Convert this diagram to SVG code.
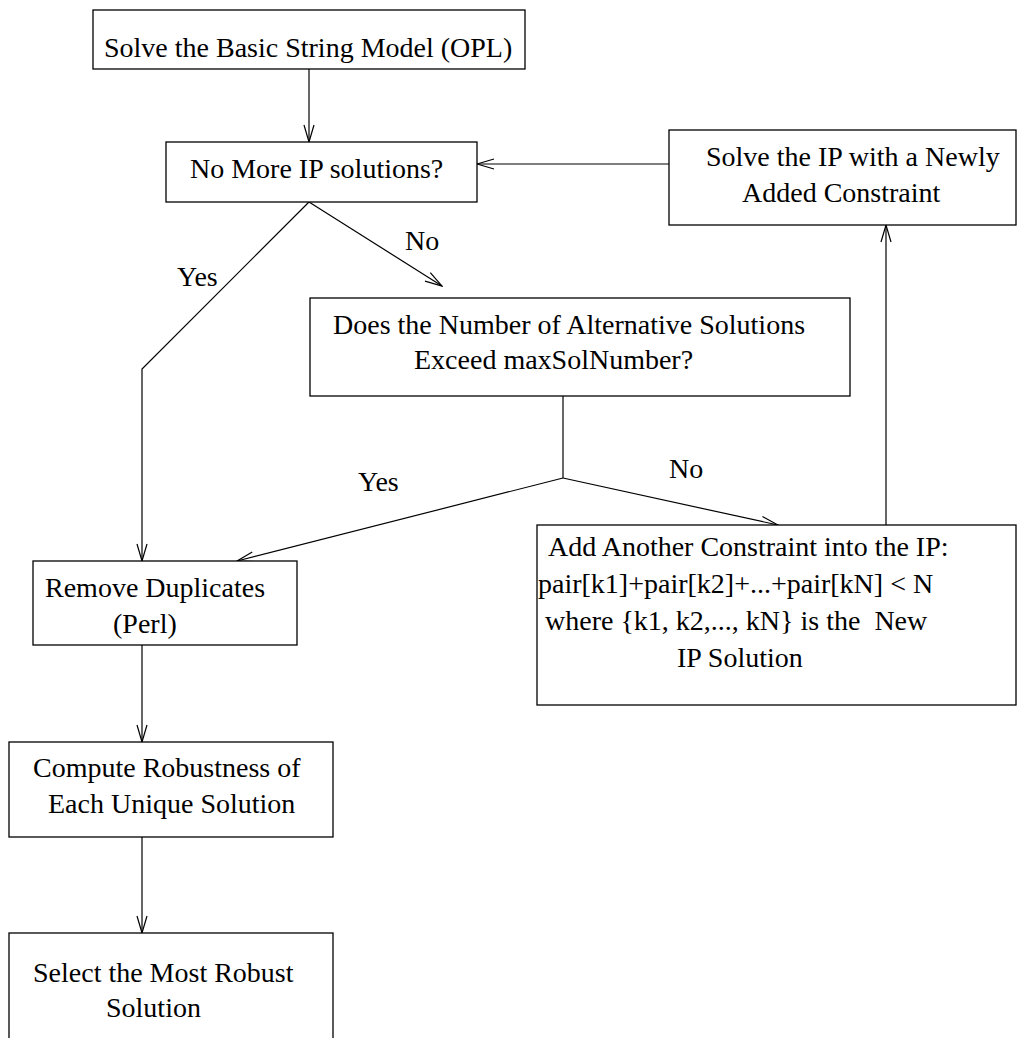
<svg xmlns="http://www.w3.org/2000/svg" width="1018" height="1038" viewBox="0 0 1018 1038">
<style>
.box{fill:#fff;stroke:#000;stroke-width:1.3}
.t{font-family:"Liberation Serif","Times New Roman",serif;font-size:28px;fill:#000}
.c{fill:none;stroke:#000;stroke-width:1.2}
</style>
<defs>
<marker id="ah" viewBox="-18 -6 19 12" refX="0" refY="0" markerWidth="19" markerHeight="12" markerUnits="userSpaceOnUse" orient="auto">
<path d="M-17,-5 L0,0 L-17,5" fill="none" stroke="#000" stroke-width="1.2"/>
</marker>
</defs>
<rect width="1018" height="1038" fill="#fff"/>
<g id="connectors">
<line class="c" x1="309" y1="69" x2="309" y2="142" marker-end="url(#ah)"/>
<line class="c" x1="669" y1="164" x2="477" y2="164" marker-end="url(#ah)"/>
<line class="c" x1="886" y1="525" x2="886" y2="225" marker-end="url(#ah)"/>
<line class="c" x1="309" y1="202" x2="442" y2="286" marker-end="url(#ah)"/>
<polyline class="c" points="309,202 142,369 142,561" marker-end="url(#ah)"/>
<line class="c" x1="563" y1="396" x2="563" y2="478"/>
<line class="c" x1="563" y1="478" x2="237" y2="561" marker-end="url(#ah)"/>
<line class="c" x1="563" y1="478" x2="778" y2="525" marker-end="url(#ah)"/>
<line class="c" x1="142" y1="645" x2="142" y2="742" marker-end="url(#ah)"/>
<line class="c" x1="142" y1="837" x2="142" y2="933" marker-end="url(#ah)"/>
<text class="t" x="405" y="250">No</text>
<text class="t" x="177" y="286">Yes</text>
<text class="t" x="358" y="491">Yes</text>
<text class="t" x="669" y="478">No</text>
</g>
<g id="n1">
<rect class="box" x="93" y="10" width="432" height="59"/>
<text class="t" x="104" y="57">Solve the Basic String Model (OPL)</text>
</g>
<g id="n2">
<rect class="box" x="166" y="142" width="311" height="60"/>
<text class="t" x="190" y="178">No More IP solutions?</text>
</g>
<g id="n3">
<rect class="box" x="669" y="130" width="347" height="95"/>
<text class="t" x="706" y="166">Solve the IP with a Newly</text>
<text class="t" x="742" y="202">Added Constraint</text>
</g>
<g id="n4">
<rect class="box" x="310" y="298" width="540" height="98"/>
<text class="t" x="333" y="334">Does the Number of Alternative Solutions</text>
<text class="t" x="414" y="369">Exceed maxSolNumber?</text>
</g>
<g id="n5">
<rect class="box" x="537" y="525" width="479" height="180"/>
<text class="t" x="548" y="556">Add Another Constraint into the IP:</text>
<text class="t" x="538" y="593">pair[k1]+pair[k2]+...+pair[kN] &lt; N</text>
<text class="t" x="545" y="630">where {k1, k2,..., kN} is the&#160; New</text>
<text class="t" x="677" y="667">IP Solution</text>
</g>
<g id="n6">
<rect class="box" x="33" y="561" width="264" height="84"/>
<text class="t" x="45" y="597">Remove Duplicates</text>
<text class="t" x="113" y="633">(Perl)</text>
</g>
<g id="n7">
<rect class="box" x="9" y="742" width="324" height="95"/>
<text class="t" x="33" y="777">Compute Robustness of</text>
<text class="t" x="48" y="813">Each Unique Solution</text>
</g>
<g id="n8">
<rect class="box" x="9" y="933" width="324" height="120"/>
<text class="t" x="33" y="982">Select the Most Robust</text>
<text class="t" x="106" y="1017">Solution</text>
</g>
</svg>
